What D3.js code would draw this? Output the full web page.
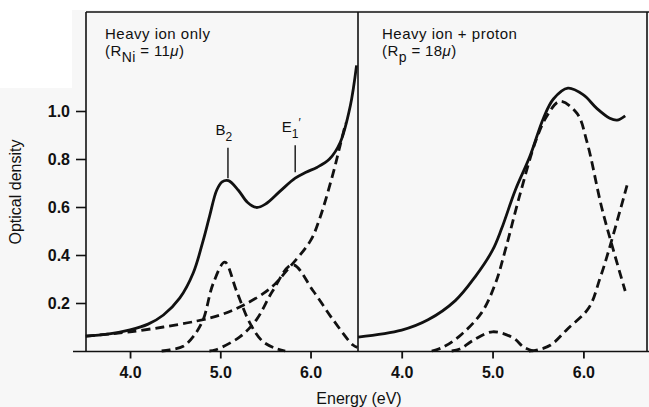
<!DOCTYPE html>
<html><head><meta charset="utf-8">
<script src="https://cdn.jsdelivr.net/npm/d3@7"></script>
<style>
body{margin:0;background:#fff}
svg{display:block}
text{font-family:"Liberation Sans",Arial,sans-serif;fill:#111}
</style>
</head><body>
<svg id="c" width="649" height="407"></svg>
<script>
// ---------- data ----------
const panels = ["Heavy ion only", "Heavy ion + proton"];
const xTicks = [4.0, 5.0, 6.0];
const yTicks = [0.2, 0.4, 0.6, 0.8, 1.0];
const xDomainLeft = [3.512, 6.526];
const xDomainRight = [3.519, 6.70];
const yDomain = [0, 1.4125];

// Left panel: heavy ion only
const leftTotal = [[3.51,0.062],[3.75,0.07],[4.0,0.088],[4.2,0.112],[4.37,0.15],[4.55,0.22],[4.7,0.325],[4.81,0.46],[4.88,0.56],[4.96,0.67],[5.02,0.705],[5.09,0.71],[5.2,0.67],[5.3,0.62],[5.4,0.598],[5.5,0.612],[5.66,0.665],[5.83,0.72],[5.95,0.745],[6.07,0.765],[6.21,0.80],[6.33,0.87],[6.44,1.02],[6.51,1.19]];
const leftBackground = [[3.51,0.062],[3.75,0.07],[4.0,0.08],[4.37,0.10],[4.74,0.125],[5.0,0.15],[5.25,0.19],[5.55,0.26],[5.77,0.35],[6.0,0.46],[6.1,0.55],[6.25,0.74],[6.33,0.86],[6.39,0.95]];
const leftB2 = [[4.35,0.0],[4.44,0.005],[4.59,0.02],[4.7,0.06],[4.81,0.13],[4.92,0.28],[5.05,0.37],[5.18,0.25],[5.33,0.115],[5.47,0.04],[5.62,0.01],[5.72,0.0]];
const leftE1 = [[4.88,0.0],[4.95,0.005],[5.22,0.06],[5.4,0.13],[5.58,0.25],[5.8,0.36],[6.03,0.25],[6.25,0.13],[6.47,0.025],[6.52,0.015]];

// Right panel: heavy ion + proton
const rightTotal = [[3.52,0.058],[4.0,0.087],[4.29,0.13],[4.59,0.21],[4.81,0.31],[5.0,0.42],[5.1,0.51],[5.25,0.67],[5.41,0.81],[5.56,0.97],[5.67,1.05],[5.83,1.095],[6.0,1.067],[6.15,1.01],[6.29,0.97],[6.37,0.962],[6.46,0.98]];
const rightMain = [[4.33,0.0],[4.45,0.015],[4.63,0.06],[4.88,0.16],[5.03,0.28],[5.14,0.42],[5.3,0.65],[5.48,0.88],[5.6,0.98],[5.74,1.04],[5.93,0.99],[6.04,0.87],[6.2,0.6],[6.33,0.42],[6.46,0.25]];
const rightSmall = [[4.55,0.0],[4.64,0.008],[4.79,0.045],[5.0,0.08],[5.23,0.054],[5.34,0.017],[5.45,0.0]];
const rightRise = [[5.4,0.0],[5.5,0.005],[5.64,0.025],[5.82,0.09],[6.06,0.18],[6.18,0.3],[6.28,0.42],[6.48,0.69]];

const annotations = [
  {panel:0, x:5.085, base:"B", sub:"2", prime:false, yTop:0.847, yBot:0.72, shift:-4},
  {panel:0, x:5.83, base:"E", sub:"1", prime:true, yTop:0.857, yBot:0.745, shift:-4}
];

// ---------- layout ----------
const svg = d3.select("#c");
svg.append("rect").attr("width",649).attr("height",407).attr("fill","#f7f7f7");
svg.append("rect").attr("width",649).attr("height",10).attr("fill","#fff");
svg.append("rect").attr("width",72).attr("height",88).attr("fill","#fff");

const y = d3.scaleLinear().domain(yDomain).range([351, 12]);
const xL = d3.scaleLinear().domain(xDomainLeft).range([86, 358]);
const xR = d3.scaleLinear().domain(xDomainRight).range([358, 647]);

const line = (xs) => d3.line().x(d => xs(d[0])).y(d => y(d[1])).curve(d3.curveCatmullRom.alpha(0.5));

function draw(xs, data, dashed) {
  svg.append("path").datum(data).attr("d", line(xs))
    .attr("fill","none").attr("stroke","#111").attr("stroke-width", 2.8)
    .attr("stroke-linejoin","round")
    .attr("stroke-dasharray", dashed ? "9,5" : null);
}

// frame
const fr = svg.append("g").attr("stroke","#111").attr("stroke-width",1.6).attr("fill","none");
fr.append("line").attr("x1",86).attr("x2",649).attr("y1",12).attr("y2",12);
fr.append("line").attr("x1",86).attr("x2",86).attr("y1",12).attr("y2",352);
fr.append("line").attr("x1",358).attr("x2",358).attr("y1",12).attr("y2",352);
fr.append("line").attr("x1",647).attr("x2",647).attr("y1",12).attr("y2",352);
fr.append("line").attr("x1",73).attr("x2",649).attr("y1",351.5).attr("y2",351.5);

const tickFont = '"Liberation Sans",Arial,sans-serif';
// y axis (left only)
const ya = svg.append("g").attr("transform","translate(86,0)")
  .call(d3.axisLeft(y).tickValues(yTicks).tickSize(10).tickPadding(6).tickFormat(d3.format(".1f")));
ya.select(".domain").remove();
ya.selectAll("line").attr("stroke","#111").attr("stroke-width",1.6);
ya.selectAll("text").attr("font-size",16).attr("font-weight","bold").attr("dy","0.36em")
  .style("font-family",tickFont).attr("fill","#111");

// x axes
[xL, xR].forEach(xs => {
  const xa = svg.append("g").attr("transform","translate(0,351.5)")
    .call(d3.axisBottom(xs).tickValues(xTicks).tickSize(7).tickPadding(8).tickFormat(d3.format(".1f")));
  xa.select(".domain").remove();
  xa.selectAll("line").attr("stroke","#111").attr("stroke-width",1.8);
  xa.selectAll("text").attr("font-size",16).attr("font-weight","bold")
    .style("font-family",tickFont).attr("fill","#111");
});

// curves
draw(xL, leftTotal, false);
draw(xL, leftBackground, true);
draw(xL, leftB2, true);
draw(xL, leftE1, true);
draw(xR, rightTotal, false);
draw(xR, rightMain, true);
draw(xR, rightSmall, true);
draw(xR, rightRise, true);

// axis titles
svg.append("text").attr("transform","translate(21,192) rotate(-90)")
  .attr("text-anchor","middle").attr("font-size",16).text("Optical density");
svg.append("text").attr("x",359).attr("y",404).attr("text-anchor","middle")
  .attr("font-size",16).text("Energy (eV)");

// panel labels
function panelLabel(x0, line1, sub, val) {
  svg.append("text").attr("x",x0).attr("y",38.5).attr("font-size",15)
    .attr("letter-spacing",0.5).text(line1);
  const t = svg.append("text").attr("x",x0).attr("y",56).attr("font-size",15).attr("letter-spacing",0.4);
  t.append("tspan").text("(R");
  t.append("tspan").attr("dy",6).attr("font-size",14).text(sub);
  t.append("tspan").attr("dy",-6).text(" = " + val);
  t.append("tspan").attr("font-style","italic").text("\u03bc");
  t.append("tspan").text(")");
}
panelLabel(105, panels[0], "Ni", "11");
panelLabel(382, panels[1], "p", "18");

// peak annotations
annotations.forEach(a => {
  const xs = a.panel === 0 ? xL : xR;
  const px = xs(a.x);
  svg.append("line").attr("x1",px).attr("x2",px).attr("y1",y(a.yTop)).attr("y2",y(a.yBot))
    .attr("stroke","#111").attr("stroke-width",1.4);
  const t = svg.append("text").attr("x", px + a.shift).attr("y", y(a.yTop) - 13)
    .attr("text-anchor","middle").attr("font-size",15);
  t.append("tspan").text(a.base);
  t.append("tspan").attr("dy",6).attr("font-size",12).text(a.sub);
  if (a.prime) {
    t.append("tspan").attr("dy",-11).attr("font-size",12).text("\u2032");
  }
});
</script>
</body></html>
